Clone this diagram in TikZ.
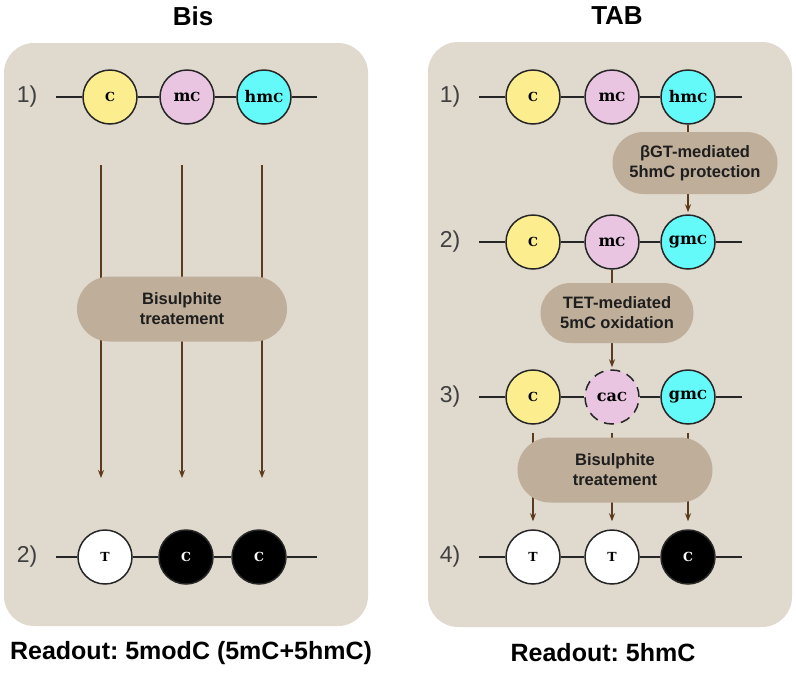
\documentclass[tikz,border=0pt]{standalone}
\usepackage{fontspec}
\setmainfont{Liberation Sans}
\newfontfamily\basefont{DejaVu Serif}
\usetikzlibrary{arrows.meta,shapes.misc}
\definecolor{panelbg}{RGB}{224,217,206}
\definecolor{blob}{RGB}{191,174,153}
\definecolor{arr}{RGB}{92,58,30}
\definecolor{cyel}{RGB}{252,238,143}
\definecolor{cpink}{RGB}{233,197,225}
\definecolor{ccyan}{RGB}{100,250,250}
\definecolor{txt}{RGB}{30,30,30}
\newcommand{\capC}{{\fontsize{12.5}{12.5}\selectfont C}}
\newcommand{\capT}{{\fontsize{12.5}{12.5}\selectfont T}}
\frenchspacing
\tikzset{
  base/.style={circle, draw=black!85, line width=1.5pt, minimum size=54pt, inner sep=0pt,
    font=\basefont\bfseries\fontsize{16}{16}\selectfont, text=black},
  yel/.style={base, fill=cyel},
  pink/.style={base, fill=cpink},
  cyan/.style={base, fill=ccyan},
  wht/.style={base, fill=white},
  blk/.style={base, fill=black, text=white},
  rowline/.style={line width=1.4pt, black!85},
  arrowln/.style={line width=1.3pt, arr, -{Stealth[length=8pt,width=6pt]}},
  blobst/.style={rounded rectangle, fill=blob, align=center, text=txt,
    font=\bfseries\fontsize{16.5}{20}\selectfont, inner sep=0pt},
  lab/.style={font=\fontsize{23}{23}\selectfont, text=black!75},
  title/.style={font=\bfseries\fontsize{26}{26}\selectfont, text=black},
  readout/.style={font=\bfseries\fontsize{25}{25}\selectfont, text=black},
}
\begin{document}
\begin{tikzpicture}[x=1pt,y=-1pt]
\useasboundingbox (0,0) rectangle (796,673);
% panels
\fill[panelbg, rounded corners=30pt] (4,43) rectangle (368,626);
\fill[panelbg, rounded corners=30pt] (428,42) rectangle (792,627);
% titles
\node[title] (tBis) at (193,16) {Bis};
\node[title] (tTAB) at (617,16) {TAB};
% ---------- left panel ----------
\node[lab] (L1) at (27,97) {1)};
\node[yel] (la1) at (110,97) {\capC};
\node[pink] (lb1) at (187,97) {m\capC};
\node[cyan] (lc1) at (264,97) {hm\capC};
\coordinate (ls1) at (56,97);
\coordinate (le1) at (317,97);
\draw[rowline] (ls1) -- (la1) -- (lb1) -- (lc1) -- (le1);

\node[lab] (L2) at (27,557) {2)};
\node[wht] (la2) at (105,557) {\capT};
\node[blk] (lb2) at (186,557) {\capC};
\node[blk] (lc2) at (259,557) {\capC};
\coordinate (ls2) at (56,557);
\coordinate (le2) at (317,557);
\draw[rowline] (ls2) -- (la2) -- (lb2) -- (lc2) -- (le2);

\coordinate (p1s) at (101,165); \coordinate (p1e) at (101,478);
\coordinate (p2s) at (182,165); \coordinate (p2e) at (182,478);
\coordinate (p3s) at (262,165); \coordinate (p3e) at (262,478);
\draw[arrowln] (p1s) -- (p1e);
\draw[arrowln] (p2s) -- (p2e);
\draw[arrowln] (p3s) -- (p3e);
\node[blobst, minimum width=210pt, minimum height=65pt] (lbis) at (182,309) {Bisulphite\\treatement};

\node[readout] (rBis) at (191,653) {Readout: 5modC (5mC+5hmC)};

% ---------- right panel ----------
\node[lab] (R1) at (450,97) {1)};
\node[yel] (ra1) at (533,97) {\capC};
\node[pink] (rb1) at (612,97) {m\capC};
\node[cyan] (rc1) at (688,97) {hm\capC};
\coordinate (rs1) at (479,97); \coordinate (re1) at (742,97);
\draw[rowline] (rs1) -- (ra1) -- (rb1) -- (rc1) -- (re1);

\node[lab] (R2) at (450,242) {2)};
\node[yel] (ra2) at (533,242) {\capC};
\node[pink] (rb2) at (612,242) {m\capC};
\node[cyan] (rc2) at (688,242) {gm\capC};
\coordinate (rs2) at (479,242); \coordinate (re2) at (742,242);
\draw[rowline] (rs2) -- (ra2) -- (rb2) -- (rc2) -- (re2);

\node[lab] (R3) at (450,397) {3)};
\node[yel] (ra3) at (533,397) {\capC};
\node[pink, dash pattern=on 10pt off 7pt] (rb3) at (612,397) {ca\capC};
\node[cyan] (rc3) at (688,397) {gm\capC};
\coordinate (rs3) at (479,397); \coordinate (re3) at (742,397);
\draw[rowline] (rs3) -- (ra3) -- (rb3) -- (rc3) -- (re3);

\node[lab] (R4) at (450,557) {4)};
\node[wht] (ra4) at (533,557) {\capT};
\node[wht] (rb4) at (612,557) {\capT};
\node[blk] (rc4) at (688,557) {\capC};
\coordinate (rs4) at (479,557); \coordinate (re4) at (742,557);
\draw[rowline] (rs4) -- (ra4) -- (rb4) -- (rc4) -- (re4);

\draw[arrowln, shorten >=2pt] (rc1) -- (rc2);
\draw[arrowln, shorten >=2pt] (rb2) -- (rb3);
\draw[arrowln, shorten >=8pt, shorten <=8pt] (ra3) -- (ra4);
\draw[arrowln, shorten >=8pt, shorten <=8pt] (rb3) -- (rb4);
\draw[arrowln, shorten >=8pt, shorten <=8pt] (rc3) -- (rc4);

\node[blobst, minimum width=165pt, minimum height=62pt] (bgt) at (695,163) {βGT-mediated\\5hmC protection};
\node[blobst, minimum width=153pt, minimum height=60pt] (tet) at (617,313) {TET-mediated\\5mC oxidation};
\node[blobst, minimum width=195pt, minimum height=65pt] (rbis) at (615,470) {Bisulphite\\treatement};

\node[readout] (rTAB) at (603,653) {Readout: 5hmC};
\end{tikzpicture}
\end{document}
